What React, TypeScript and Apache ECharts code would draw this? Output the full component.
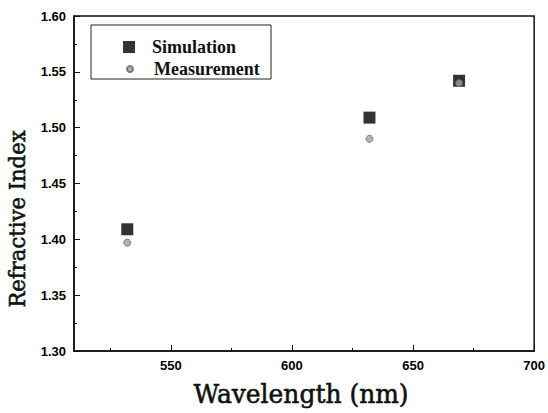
import React, { useEffect, useRef } from "react";
import * as echarts from "echarts";

const wavelengths = [532, 632, 669];
const simulation = [1.409, 1.509, 1.542];
const measurement = [1.397, 1.49, 1.54];
const xMajorTicks = [550, 600, 650, 700];
const xMinorTicks = [525, 575, 625, 675];
const seriesNames = ["Simulation", "Measurement"];
const xTitle = "Wavelength (nm)";
const yTitle = "Refractive Index";

const titleFont = "DejaVu Serif";

export default function App() {
  const ref = useRef<HTMLDivElement>(null);
  useEffect(() => {
    if (!ref.current) return;
    const chart = echarts.init(ref.current, null, { renderer: "svg" });
    const labelStyle = {
      fontFamily: "Liberation Sans",
      fontWeight: "bold" as const,
      fontSize: 13,
      color: "#000",
    };
    chart.setOption({
      animation: false,
      backgroundColor: "#fff",
      grid: {
        left: 74,
        right: 13,
        top: 16,
        bottom: 62,
        show: true,
        borderColor: "#111",
        borderWidth: 1.5,
        backgroundColor: "transparent",
      },
      xAxis: [
        {
          type: "value",
          min: 510,
          max: 700,
          position: "bottom",
          axisLine: { show: true, lineStyle: { color: "#111", width: 1.5 } },
          axisTick: {
            show: true,
            inside: true,
            length: 6,
            customValues: xMajorTicks,
            lineStyle: { color: "#111", width: 1 },
          },
          axisLabel: {
            show: true,
            margin: 8,
            customValues: xMajorTicks,
            ...labelStyle,
          },
          splitLine: { show: false },
        },
        {
          type: "value",
          min: 510,
          max: 700,
          position: "bottom",
          axisLine: { show: false },
          axisTick: {
            show: true,
            inside: true,
            length: 3,
            customValues: xMinorTicks,
            lineStyle: { color: "#111", width: 1 },
          },
          axisLabel: { show: false },
          splitLine: { show: false },
        },
      ],
      yAxis: {
        type: "value",
        min: 1.3,
        max: 1.6,
        interval: 0.05,
        axisLine: { show: true, lineStyle: { color: "#111", width: 1.5 } },
        axisTick: {
          show: true,
          inside: true,
          length: 6,
          lineStyle: { color: "#111", width: 1 },
        },
        minorTick: {
          show: true,
          splitNumber: 2,
          length: 3,
          lineStyle: { color: "#111", width: 1 },
        },
        axisLabel: {
          margin: 8,
          formatter: (v: number) => v.toFixed(2),
          ...labelStyle,
        },
        splitLine: { show: false },
        minorSplitLine: { show: false },
      },
      legend: [
        {
          data: [{ name: seriesNames[0], icon: "rect" }],
          left: 123,
          top: 37,
          padding: 0,
          itemWidth: 12,
          itemHeight: 12,
          selectedMode: false,
          textStyle: {
            fontFamily: "Liberation Serif",
            fontWeight: "bold",
            fontSize: 18,
            color: "#111",
            lineHeight: 20,
            padding: [0, 0, 0, 12],
          },
        },
        {
          data: [{ name: seriesNames[1], icon: "circle" }],
          left: 126,
          top: 59,
          padding: 0,
          itemWidth: 6,
          itemHeight: 6,
          selectedMode: false,
          textStyle: {
            fontFamily: "Liberation Serif",
            fontWeight: "bold",
            fontSize: 18,
            color: "#111",
            lineHeight: 20,
            padding: [0, 0, 0, 16],
          },
        },
      ],
      graphic: [
        {
          type: "rect",
          shape: { x: 91, y: 25, width: 180, height: 54 },
          style: { fill: "transparent", stroke: "#222", lineWidth: 1 },
          silent: true,
        },
        {
          type: "text",
          x: 301,
          y: 394,
          scaleX: 0.96,
          style: {
            text: xTitle,
            fontFamily: titleFont,
            fontSize: 26,
            fill: "#111",
            stroke: "#111",
            lineWidth: 0.6,
            align: "center",
            verticalAlign: "middle",
          },
        },
        {
          type: "text",
          x: 17,
          y: 219,
          rotation: Math.PI / 2,
          scaleX: 0.92,
          style: {
            text: yTitle,
            fontFamily: titleFont,
            fontSize: 23,
            fill: "#111",
            stroke: "#111",
            lineWidth: 0.6,
            align: "center",
            verticalAlign: "middle",
          },
        },
      ],
      series: [
        {
          name: seriesNames[0],
          type: "scatter",
          xAxisIndex: 0,
          symbol: "rect",
          symbolSize: 12,
          itemStyle: { color: "#000" },
          data: wavelengths.map((w, i) => [w, simulation[i]]),
        },
        {
          name: seriesNames[1],
          type: "scatter",
          xAxisIndex: 0,
          symbol: "circle",
          symbolSize: 7,
          itemStyle: { color: "#a0a0a0", borderColor: "#606060", borderWidth: 1 },
          data: wavelengths.map((w, i) => [w, measurement[i]]),
        },
      ],
    });
    return () => chart.dispose();
  }, []);
  return (
    <div
      ref={ref}
      style={{ position: "fixed", left: 0, top: 0, width: 548, height: 413 }}
    />
  );
}
